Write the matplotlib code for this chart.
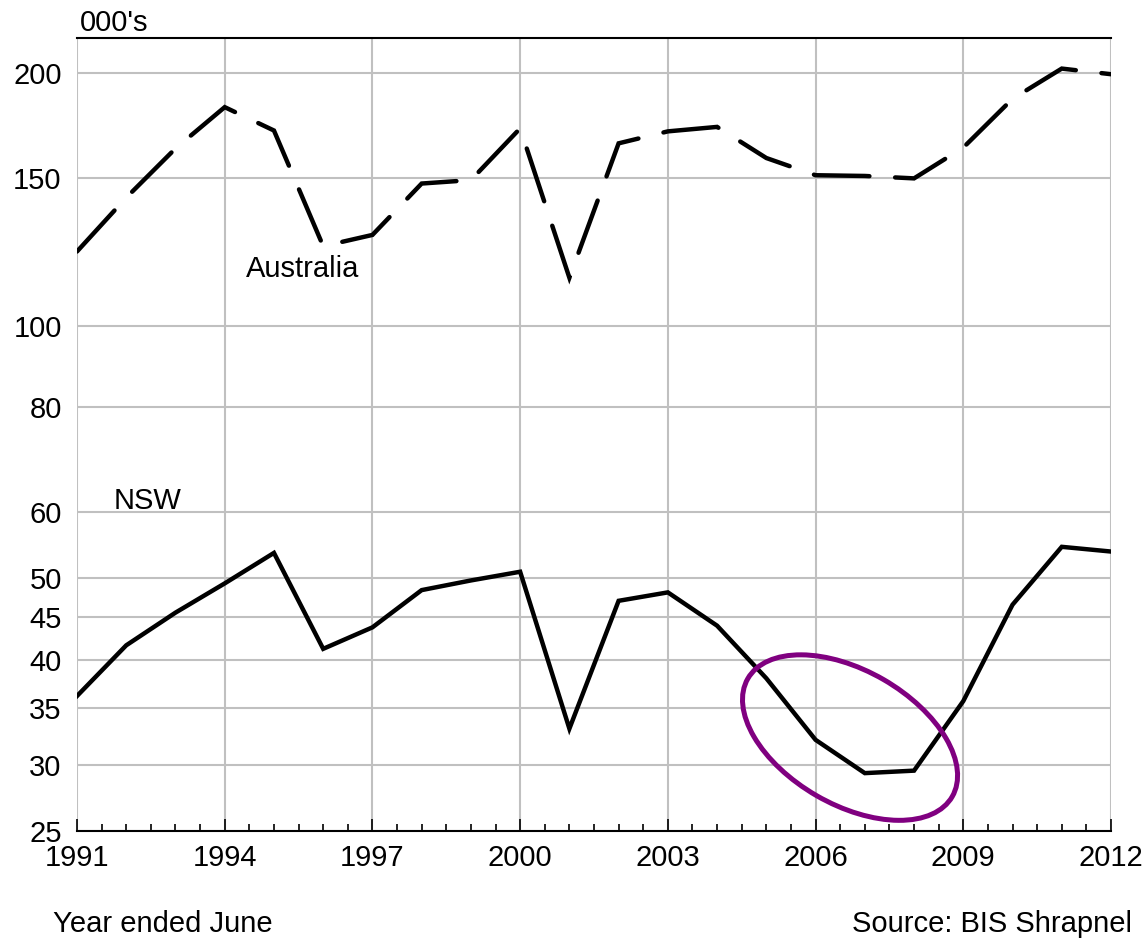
import matplotlib
matplotlib.use("Agg")
import matplotlib.pyplot as plt
from matplotlib.patches import Ellipse
from matplotlib.transforms import ScaledTranslation
from matplotlib.ticker import FixedLocator, MultipleLocator, NullFormatter

# Datos (miles de viviendas)
anios = list(range(1991, 2013))
australia = [122.5, 142, 162.5, 182, 170.7, 124.3, 128.2, 147.6, 149, 171.7, 114,
             164.8, 170.3, 172.4, 158.3, 151, 150.7, 149.7, 162.9, 186.2, 202.3, 199.2]
nsw = [36.2, 41.6, 45.5, 49.3, 53.6, 41.2, 43.7, 48.4, 49.7, 50.9, 33.1,
       47.0, 48.1, 43.9, 38.0, 32.1, 29.3, 29.5, 35.7, 46.5, 54.5, 53.8]
yticks = [25, 30, 35, 40, 45, 50, 60, 80, 100, 150, 200]
xticks = list(range(1991, 2013, 3))

plt.rcParams['font.family'] = ['Liberation Sans', 'DejaVu Sans']
tam = 21

fig = plt.figure(figsize=(11.47, 9.38), dpi=100)
ax = fig.add_axes([77 / 1147, 1 - 831 / 938, (1111 - 77) / 1147, (831 - 38) / 938])

gris = '#c0c0c0'
ax.set_yscale('log')
ax.set_ylim(25, 220)
ax.set_xlim(1991, 2012)

# Cuadricula
ax.yaxis.set_major_locator(FixedLocator(yticks))
ax.yaxis.set_minor_locator(FixedLocator([]))
ax.yaxis.set_major_formatter(plt.FuncFormatter(lambda v, p: '%d' % v))
ax.yaxis.set_minor_formatter(NullFormatter())
ax.xaxis.set_major_locator(FixedLocator(xticks))
ax.xaxis.set_minor_locator(MultipleLocator(0.5))
ax.grid(True, which='major', color=gris, linewidth=1.5, zorder=0)

# Lineas
ax.plot(anios, australia, color='black', linewidth=3.2, linestyle=(0, (12.5, 5.8)),
        dash_capstyle='round', dash_joinstyle='miter', zorder=3)
ax.plot(anios, nsw, color='black', linewidth=3.2, solid_joinstyle='miter', zorder=3)

# Bordes
for lado in ['left', 'right']:
    ax.spines[lado].set_visible(False)
for lado in ['top', 'bottom']:
    ax.spines[lado].set_color('black')
    ax.spines[lado].set_linewidth(1.5)

ax.tick_params(axis='y', which='both', length=0, pad=11, labelsize=tam)
ax.tick_params(axis='x', which='major', direction='in', length=9, width=1.2,
               pad=9, labelsize=tam, bottom=True, top=False)
ax.tick_params(axis='x', which='minor', direction='in', length=5, width=1.2,
               bottom=True, top=False)

# Etiquetas de series
fig.text(246 / 1147, 1 - 277 / 938, 'Australia', fontsize=tam, va='baseline', ha='left')
fig.text(114 / 1147, 1 - 509 / 938, 'NSW', fontsize=tam, va='baseline', ha='left')

# Textos fuera del grafico
fig.text(80 / 1147, 1 - 31 / 938, "000's", fontsize=tam, va='baseline', ha='left')
fig.text(53 / 1147, 1 - 932 / 938, 'Year ended June', fontsize=tam, va='baseline', ha='left')
fig.text(1132 / 1147, 1 - 932 / 938, 'Source: BIS Shrapnel', fontsize=tam, va='baseline', ha='right')

# Elipse morada alrededor del minimo de NSW
trans = fig.dpi_scale_trans + ScaledTranslation(2006.7, 32.3, ax.transData)
elipse = Ellipse((0, 0), width=2.36, height=1.34, angle=-30, transform=trans,
                 fill=False, edgecolor='#800080', linewidth=3.6, zorder=4, clip_on=False)
ax.add_patch(elipse)

fig.savefig('out.png', dpi=100)
